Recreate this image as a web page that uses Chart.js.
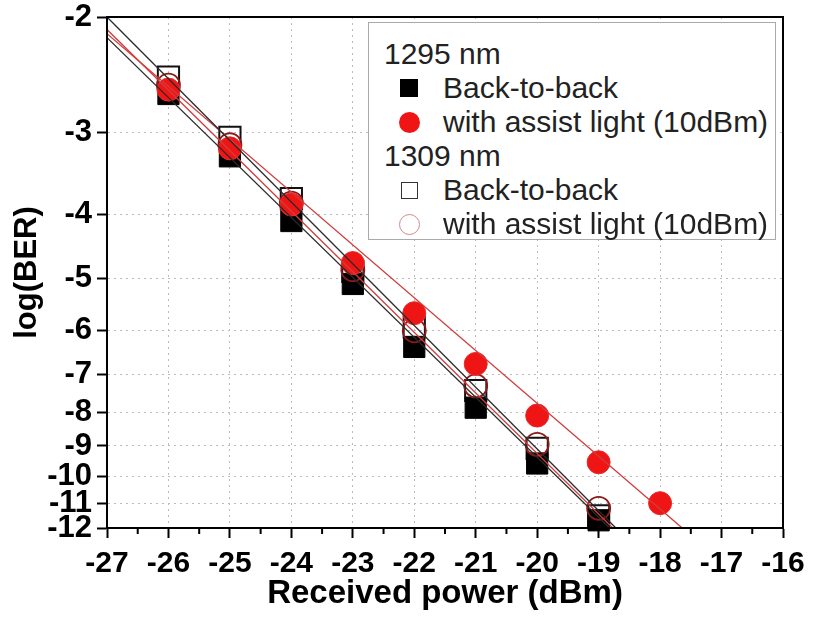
<!DOCTYPE html>
<html>
<head>
<meta charset="utf-8">
<title>BER vs received power</title>
<script src="https://cdn.jsdelivr.net/npm/chart.js@4.4.1/dist/chart.umd.min.js"></script>
<style>
  body { margin: 0; background: #fff; }
  #wrap { position: relative; width: 817px; height: 620px; }
  #legend {
    position: absolute; left: 368px; top: 22px; width: 408px; height: 218px;
    border: 1px solid #aaa; background: #fff; box-sizing: border-box;
    font-family: "Liberation Sans", Arial, sans-serif; font-size: 30px; color: #222;
  }
  .row { position: absolute; left: 0; width: 100%; height: 34px; line-height: 34px; white-space: nowrap; }
  .row .txt { position: absolute; left: 74px; top: 0; }
  .row.head .txt { left: 15px; }
  .mk { position: absolute; box-sizing: border-box; }
</style>
</head>
<body>
<div id="wrap">
  <canvas id="berChart" width="817" height="620"></canvas>
  <div id="legend"></div>
</div>
<script>
// received power (dBm)
const powers = [-26, -25, -24, -23, -22, -21, -20, -19];
const powersAssist1295 = [-26, -25, -24, -23, -22, -21, -20, -19, -18];

// log(BER)
const b2b1295 = [-2.62, -3.26, -4.09, -5.10, -6.36, -7.87, -9.57, -11.68];
const assist1295 = [-2.58, -3.17, -3.86, -4.74, -5.65, -6.75, -8.09, -9.53, -11.0];
const b2b1309 = [-2.47, -3.05, -3.78, -4.88, -5.93, -7.41, -9.08, -11.5];
const assist1309 = [-2.54, -3.13, -3.84, -4.85, -6.01, -7.29, -8.95, -11.2];

// fitted lines, end points (power, log(BER))
const fitB2b1309X = [-27, -18.72];
const fitB2b1309Y = [-2.0, -12];
const fitAssist1309X = [-27, -18.77];
const fitAssist1309Y = [-2.09, -12];
const fitB2b1295X = [-27, -18.82];
const fitB2b1295Y = [-2.15, -12];
const fitAssist1295X = [-27, -17.64];
const fitAssist1295Y = [-2.12, -12];

const xMin = -27;
const xMax = -16;
const yTicks = [-2, -3, -4, -5, -6, -7, -8, -9, -10, -11, -12];

const FONT = '"Liberation Sans", Arial, sans-serif';

// the axis is log10(-log(BER)), so plot -log(BER) on a log scale
function pts(xs, ys) {
  return xs.map((x, i) => ({ x: x, y: -ys[i] }));
}

function fitLine(xs, ys, color) {
  return {
    data: pts(xs, ys),
    showLine: true,
    borderColor: color,
    borderWidth: 1.3,
    pointRadius: 0,
    order: 0,
  };
}

// frame round the plot + half-step minor ticks on x
const framePlugin = {
  id: "frame",
  afterDraw(chart) {
    const { ctx, chartArea: a, scales } = chart;
    ctx.save();
    ctx.strokeStyle = "#000";
    ctx.lineWidth = 2;
    ctx.strokeRect(a.left, a.top, a.right - a.left, a.bottom - a.top);
    ctx.beginPath();
    for (let v = xMin + 0.5; v < xMax; v += 1) {
      const px = scales.x.getPixelForValue(v);
      ctx.moveTo(px, a.bottom);
      ctx.lineTo(px, a.bottom + 6);
    }
    ctx.stroke();
    ctx.restore();
  },
};

Chart.defaults.font.family = FONT;
Chart.defaults.color = "#000";

const chart = new Chart("berChart", {
  type: "scatter",
  data: {
    datasets: [
      fitLine(fitB2b1309X, fitB2b1309Y, "#2a2a2a"),
      fitLine(fitAssist1309X, fitAssist1309Y, "#cf3d3d"),
      fitLine(fitB2b1295X, fitB2b1295Y, "#2a2a2a"),
      fitLine(fitAssist1295X, fitAssist1295Y, "#cf3d3d"),
      {
        label: "1295 nm Back-to-back",
        data: pts(powers, b2b1295),
        pointStyle: "rect",
        pointRadius: 15,
        backgroundColor: "#000",
        borderColor: "#000",
        borderWidth: 1,
        clip: false,
        order: 3,
      },
      {
        label: "1309 nm Back-to-back",
        data: pts(powers, b2b1309),
        pointStyle: "rect",
        pointRadius: 15,
        backgroundColor: "rgba(0,0,0,0)",
        borderColor: "#111",
        borderWidth: 2,
        clip: false,
        order: 4,
      },
      {
        label: "1309 nm with assist light (10dBm)",
        data: pts(powers, assist1309),
        pointStyle: "circle",
        pointRadius: 11.5,
        backgroundColor: "rgba(0,0,0,0)",
        borderColor: "#8b1a1a",
        borderWidth: 1.8,
        clip: false,
        order: 2,
      },
      {
        label: "1295 nm with assist light (10dBm)",
        data: pts(powersAssist1295, assist1295),
        pointStyle: "circle",
        pointRadius: 11.5,
        backgroundColor: "#f01515",
        borderColor: "#e82a2a",
        borderWidth: 1,
        clip: false,
        order: 1,
      },
    ],
  },
  options: {
    responsive: false,
    animation: false,
    events: [],
    layout: { padding: { left: 0, top: 15, right: 34, bottom: 0 } },
    plugins: {
      legend: { display: false },
      tooltip: { enabled: false },
    },
    scales: {
      x: {
        type: "linear",
        min: xMin,
        max: xMax,
        ticks: {
          stepSize: 1,
          padding: 8,
          font: { size: 30, weight: "bold" },
          callback: (v) => String(v),
        },
        grid: { color: "#bcbcbc", tickColor: "#000", tickWidth: 2, tickLength: 10 },
        border: { color: "#000", width: 2, dash: [2, 4] },
        title: {
          display: true,
          text: "Received power (dBm)",
          font: { size: 33, weight: "bold" },
          padding: { top: 0, bottom: 6 },
        },
        afterFit(s) {
          s.height = 92;
          s.paddingLeft = 0;
          s.paddingRight = 0;
        },
      },
      y: {
        type: "logarithmic",
        reverse: true,
        min: 2,
        max: 12,
        afterBuildTicks(s) {
          s.ticks = yTicks.map((v) => ({ value: -v }));
        },
        ticks: {
          autoSkip: false,
          padding: 5,
          font: { size: 31, weight: "bold", lineHeight: 1 },
          callback: (v) => String(-v),
        },
        grid: { color: "#bcbcbc", tickColor: "#000", tickWidth: 2, tickLength: 10 },
        border: { color: "#000", width: 2, dash: [2, 4] },
        title: {
          display: true,
          text: "log(BER)",
          font: { size: 31, weight: "bold" },
          padding: { top: 9, bottom: 0 },
        },
        afterFit(s) {
          s.width = 107;
          s.paddingTop = 0;
          s.paddingBottom = 0;
        },
      },
    },
  },
  plugins: [framePlugin],
});

// legend box (header rows have no marker)
const legendRows = [
  { text: "1295 nm", head: true },
  { text: "Back-to-back", marker: "fillSquare" },
  { text: "with assist light (10dBm)", marker: "fillCircle" },
  { text: "1309 nm", head: true },
  { text: "Back-to-back", marker: "openSquare" },
  { text: "with assist light (10dBm)", marker: "openCircle" },
];

const markerCss = {
  fillSquare: "width:18px;height:18px;background:#000;",
  fillCircle: "width:21px;height:21px;border-radius:50%;background:#f01515;",
  openSquare: "width:17px;height:17px;border:1.5px solid #333;",
  openCircle: "width:21px;height:21px;border-radius:50%;border:1.5px solid #d08888;",
};

const legend = document.getElementById("legend");
legendRows.forEach((r, i) => {
  const row = document.createElement("div");
  row.className = "row" + (r.head ? " head" : "");
  row.style.top = 14 + i * 34 + "px";
  if (r.marker) {
    const mk = document.createElement("span");
    mk.className = "mk";
    mk.style.cssText = markerCss[r.marker];
    const size = parseFloat(mk.style.width);
    mk.style.left = 40 - size / 2 + "px";
    mk.style.top = 17 - size / 2 + "px";
    row.appendChild(mk);
  }
  const txt = document.createElement("span");
  txt.className = "txt";
  txt.textContent = r.text;
  row.appendChild(txt);
  legend.appendChild(row);
});
</script>
</body>
</html>
